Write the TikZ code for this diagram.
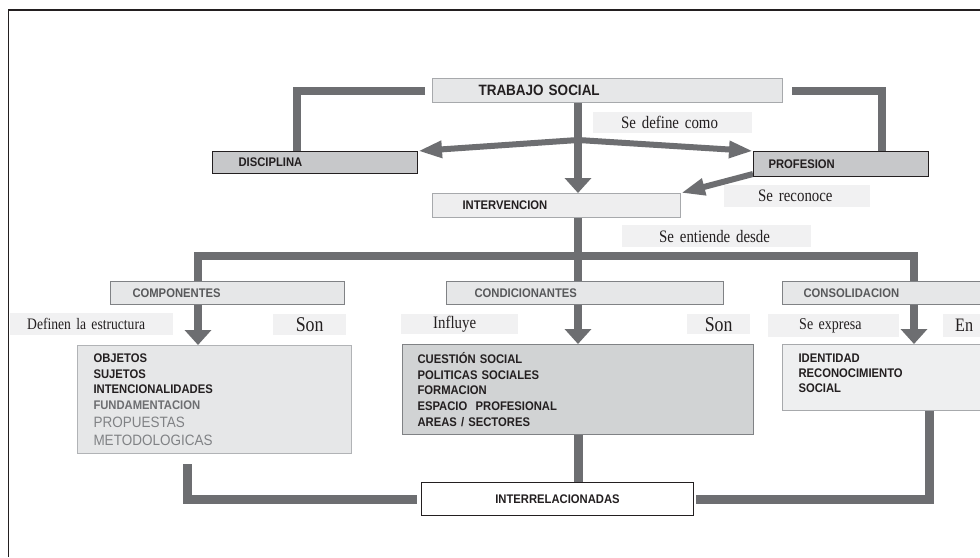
\documentclass[tikz,border=0pt]{standalone}
\usepackage{fontspec}
\setmainfont{Liberation Sans}
\newfontfamily\hsans[FakeStretch=0.9]{Liberation Sans}
\newfontfamily\tserif[FakeStretch=0.85]{Liberation Serif}
\usetikzlibrary{arrows.meta}
\definecolor{conngray}{HTML}{6D6E71}
\definecolor{tsfill}{HTML}{E6E7E8}
\definecolor{tsdraw}{HTML}{A7A9AC}
\definecolor{midfill}{HTML}{C7C8CA}
\definecolor{darkline}{HTML}{231F20}
\definecolor{intfill}{HTML}{EEEEEF}
\definecolor{headdraw}{HTML}{808285}
\definecolor{headtext}{HTML}{58595B}
\definecolor{objdraw}{HTML}{B1B3B6}
\definecolor{cuesfill}{HTML}{D1D3D4}
\definecolor{cuesdraw}{HTML}{808285}
\definecolor{idenfill}{HTML}{EEEFF0}
\definecolor{lblgray}{HTML}{F1F1F2}
\definecolor{fundgray}{HTML}{6D6E71}
\definecolor{propgray}{HTML}{808285}
\pgfdeclarelayer{bg}
\pgfsetlayers{bg,main}
\begin{document}
\begin{tikzpicture}[x=1pt,y=-1pt,
  box/.style={line width=1pt, inner ysep=0pt, align=left, anchor=north west, text=darkline,
    font=\hsans\bfseries\fontsize{12.5}{15.5}\selectfont},
  lbl/.style={fill=lblgray, inner ysep=0pt, align=left, anchor=north west, text=darkline,
    font=\tserif\fontsize{17.5}{20}\selectfont},
  conn/.style={draw=conngray, line width=8pt, line cap=butt, line join=miter},
  bigtri/.style={-{Triangle[width=26pt,length=15pt]}},
  bothtri/.style={{Triangle[width=26pt,length=15pt]}-{Triangle[width=26pt,length=15pt]}},
  slimtri/.style={-{Triangle[width=16pt,length=24pt]}}
]
\useasboundingbox (0,0) rectangle (980,557);
\clip (0,0) rectangle (980,557);

% frame
\draw[darkline, line width=1.5pt] (8.5,557) -- (8.5,10) -- (980,10);

% boxes
\node[box, fill=tsfill, draw=tsdraw, font=\hsans\bfseries\fontsize{15}{18}\selectfont,
  minimum height=24pt, inner xsep=46pt, text width=258pt] (ts) at (432,78) {TRABAJO SOCIAL};
\node[box, fill=midfill, draw=darkline, minimum height=22pt, inner xsep=26pt, text width=153pt] (disc) at (212,151) {DISCIPLINA};
\node[box, fill=midfill, draw=darkline, minimum height=25pt, inner xsep=15pt, text width=145pt] (prof) at (753,151) {PROFESION};
\node[box, fill=intfill, draw=tsdraw, minimum height=24pt, inner xsep=30pt, text width=188pt] (int) at (432,193) {INTERVENCION};
\node[box, fill=tsfill, draw=headdraw, text=headtext, minimum height=23pt, inner xsep=22pt, text width=190pt] (comp) at (110,281) {COMPONENTES};
\node[box, fill=tsfill, draw=headdraw, text=headtext, minimum height=23pt, inner xsep=28pt, text width=221pt] (cond) at (446,281) {CONDICIONANTES};
\node[box, fill=tsfill, draw=headdraw, text=headtext, minimum height=23pt, inner xsep=21pt, text width=178pt] (cons) at (782,281) {CONSOLIDACION};
\node[box, fill=tsfill, draw=objdraw, minimum height=108pt, inner xsep=16pt, text width=242pt] (obj) at (77,345)
  {OBJETOS\par SUJETOS\par INTENCIONALIDADES\par{\color{fundgray}FUNDAMENTACION\par}{\mdseries\fontsize{15}{18}\selectfont\color{propgray}PROPUESTAS\par METODOLOGICAS\par}};
\node[box, fill=cuesfill, draw=cuesdraw, minimum height=90pt, inner xsep=15pt, text width=321pt,
  font=\hsans\bfseries\fontsize{12.5}{15.75}\selectfont] (cues) at (402,344)
  {CUESTIÓN SOCIAL\par POLITICAS SOCIALES\par FORMACION\par ESPACIO\ \ PROFESIONAL\par AREAS / SECTORES\par};
\node[box, fill=idenfill, draw=tsdraw, minimum height=66pt, inner xsep=16pt, text width=188pt,
  font=\hsans\bfseries\fontsize{12.5}{15}\selectfont] (iden) at (782,344)
  {IDENTIDAD\par RECONOCIMIENTO\par SOCIAL\par\vspace*{8pt}};
\node[box, fill=white, draw=darkline, minimum height=33pt, inner xsep=10pt, text width=252pt, align=center] (inter) at (421,482) {INTERRELACIONADAS};

% labels
\node[lbl, minimum height=21pt, inner xsep=28pt, text width=103pt] (l1) at (593,112) {\mbox{Se define como}};
\node[lbl, minimum height=22pt, inner xsep=34pt, text width=78pt] (l2) at (724,185) {\mbox{Se reconoce}};
\node[lbl, minimum height=22pt, inner xsep=37pt, text width=115pt] (l3) at (622,225) {\mbox{Se entiende desde}};
\node[lbl, minimum height=22pt, inner xsep=17pt, text width=129pt, font=\tserif\fontsize{16}{19}\selectfont] (l4) at (10,313) {\mbox{Definen la estructura}};
\node[lbl, minimum height=21pt, inner xsep=0pt, text width=73pt, align=center, font=\tserif\fontsize{21}{24}\selectfont] (l5) at (273,314) {Son};
\node[lbl, minimum height=20pt, inner xsep=32pt, text width=53pt] (l6) at (401,314) {\mbox{Influye}};
\node[lbl, minimum height=20pt, inner xsep=0pt, text width=63pt, align=center, font=\tserif\fontsize{21}{24}\selectfont] (l7) at (687,314) {Son};
\node[lbl, minimum height=23pt, inner xsep=31pt, text width=69pt, font=\tserif\fontsize{16.5}{19}\selectfont] (l8) at (768,314) {\mbox{Se expresa}};
\node[lbl, minimum height=23pt, inner xsep=12pt, text width=40pt, font=\tserif\fontsize{19}{22}\selectfont] (l9) at (943,314) {\mbox{En}};

% coordinates
\coordinate (busL) at (198,256);
\coordinate (busM) at (578,256);
\coordinate (busR) at (914,256);
\coordinate (j1) at (578,140);

\begin{pgfonlayer}{bg}
\fill[white] (0,0) rectangle (980,557);
% top brackets
\draw[conn] ([xshift=-7pt]ts.west) -| ([xshift=85pt]disc.north west);
\draw[conn] ([xshift=9pt]ts.east) -| ([xshift=129pt]prof.north west);
% main vertical
\draw[conn, bigtri] (ts.south -| busM) -- (int.north -| busM);
% split arrows
\draw[conn, line width=6pt, slimtri] (j1) -- (disc.north east);
\draw[conn, line width=6pt, slimtri] (j1) -- (prof.north west);
\draw[conn, line width=6pt, slimtri] ([yshift=3pt]prof.south west) -- (int.north east);
% bus
\draw[conn] (int.south -| busM) -- (busM);
\draw[conn, bothtri] (obj.north -| busL) -- (busL) -- (busR) -- (iden.north -| busR);
\draw[conn, bigtri] (busM) -- (cues.north -| busM);
% bottom
\draw[conn, line width=9pt] ([xshift=110pt,yshift=-10pt]obj.south west) |- ([xshift=-4pt]inter.west);
\draw[conn, line width=9pt] (cues.south -| busM) -- (inter.north -| busM);
\draw[conn, line width=9pt] ([xshift=147pt]iden.south west) |- ([xshift=2pt]inter.east);
\end{pgfonlayer}
\end{tikzpicture}
\end{document}
